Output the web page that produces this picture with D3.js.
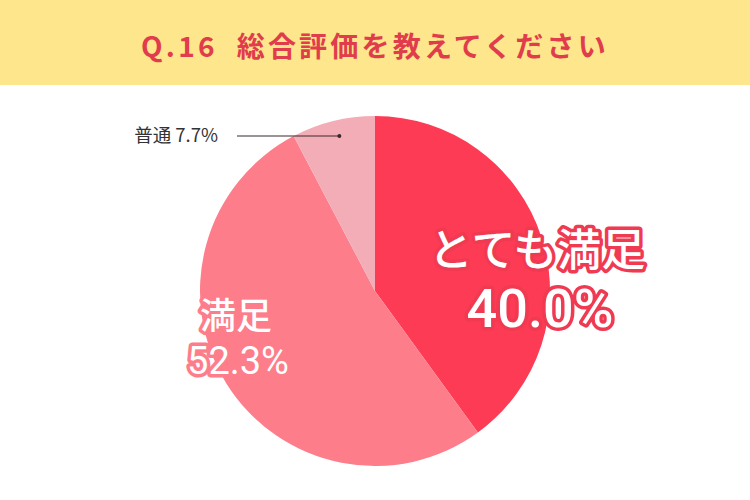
<!DOCTYPE html>
<html>
<head>
<meta charset="utf-8">
<script src="https://cdn.jsdelivr.net/npm/d3@7"></script>
<style>
  body{margin:0;background:#fff;}
  text{font-family:"Noto Sans CJK JP","Noto Sans",sans-serif;}
</style>
</head>
<body>
<svg width="750" height="500"></svg>
<script>
let title = "Q.16  総合評価を教えてください";
let categories = ["とても満足", "満足", "普通"];
let values = [40.0, 52.3, 7.7];
let colors = ["#fe3b54", "#fd7d8a", "#f3adb6"];

let svg = d3.select("svg");
let cx = 375, cy = 291, r = 175;

// header band
svg.append("rect")
    .attr("x", 0).attr("y", 0)
    .attr("width", 750).attr("height", 85)
    .attr("fill", "#fde68c");

svg.append("text")
    .attr("x", 375).attr("y", 57)
    .attr("text-anchor", "middle")
    .attr("font-size", 28)
    .attr("font-weight", "bold")
    .attr("letter-spacing", 3.2)
    .attr("fill", "#e03c4c")
    .attr("xml:space", "preserve")
    .text(title);

let pie = d3.pie().sort(null).value(d=>d.v);
let arc = d3.arc().innerRadius(0).outerRadius(r);
let slices = pie(categories.map((c,i)=>({c:c, v:values[i], col:colors[i]})));

let g = svg.append("g").attr("transform", `translate(${cx},${cy})`);
g.selectAll("path")
    .data(slices)
    .join("path")
    .attr("d", arc)
    .attr("fill", d=>d.data.col);

// labels: big outlined text
function outlined(x, y, txt, size, stroke, family, weight){
    svg.append("text")
        .attr("x", x).attr("y", y)
        .attr("text-anchor", "middle")
        .attr("font-size", size)
        .attr("font-weight", weight)
        .style("font-family", family)
        .attr("fill", "#fff")
        .attr("stroke", stroke)
        .attr("stroke-width", 7)
        .attr("stroke-linejoin", "round")
        .attr("paint-order", "stroke")
        .text(txt);
}

let jp = '"Noto Sans CJK JP",sans-serif';
let num = 'Roboto,"Noto Sans",sans-serif';
outlined(537, 266, categories[0], 44, "#f03a52", jp, 500);
outlined(540, 327, values[0].toFixed(1)+"%", 54, "#f03a52", num, 500);
outlined(236, 329, categories[1], 36, "#fd7d8a", jp, 500);
outlined(238, 374, values[1].toFixed(1)+"%", 38, "#fd7d8a", num, 400);

// small label with leader line
let small = slices[2];
let ang = (small.startAngle + small.endAngle)/2;
let px = cx + Math.sin(ang)*r*0.85;
let py = 136;
svg.append("line")
    .attr("x1", 237).attr("x2", px)
    .attr("y1", py).attr("y2", py)
    .attr("stroke", "#3a2a2a").attr("stroke-width", 1.2);
svg.append("circle")
    .attr("cx", px).attr("cy", py).attr("r", 2)
    .attr("fill", "#3a2a2a");
svg.append("text")
    .attr("x", 218).attr("y", 142)
    .attr("text-anchor", "end")
    .attr("font-size", 18.5)
    .attr("fill", "#333")
    .text(categories[2]+" "+values[2].toFixed(1)+"%");
</script>
</body>
</html>
